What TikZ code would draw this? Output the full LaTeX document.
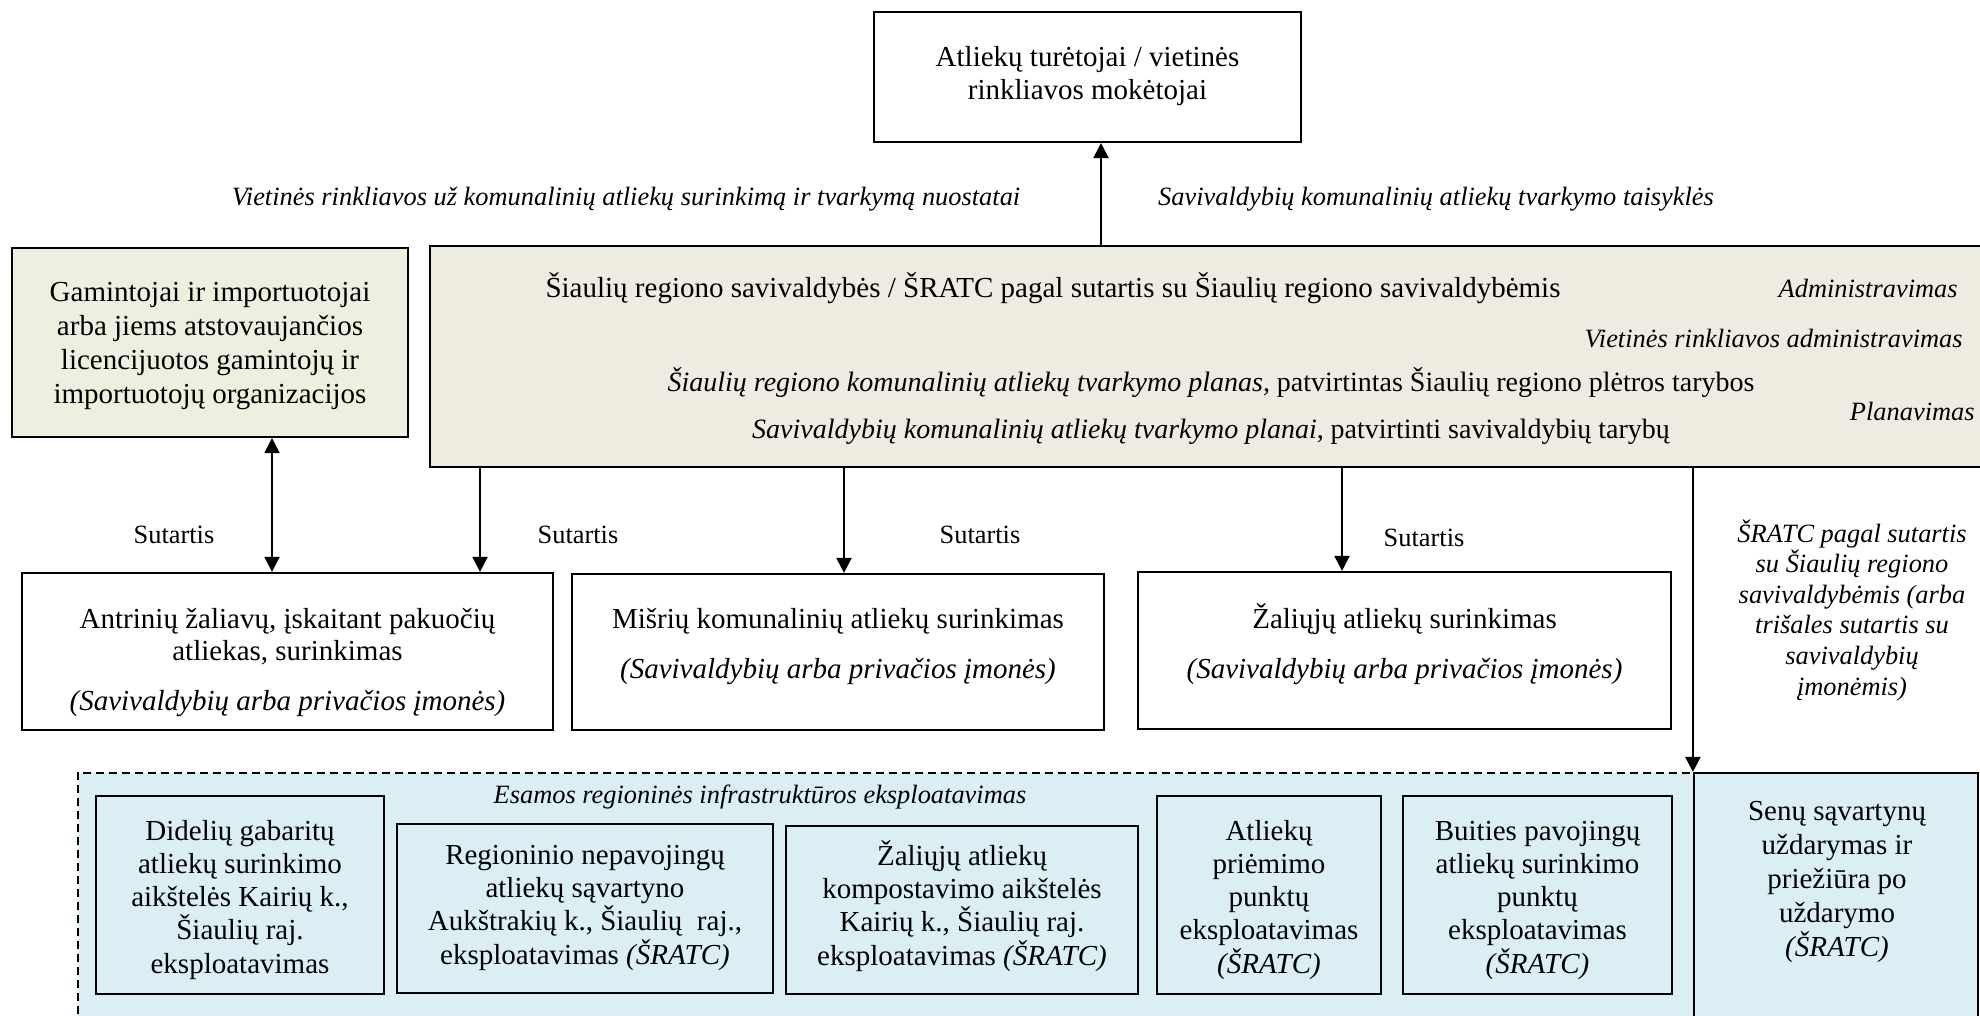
\documentclass[tikz,border=0pt]{standalone}
\usepackage{fontspec}
\setmainfont{Liberation Serif}
\usetikzlibrary{arrows.meta}
\definecolor{beigefill}{HTML}{EEECE1}
\definecolor{greenfill}{HTML}{EBF1DE}
\definecolor{bluefill}{HTML}{DAEEF3}
\tikzset{
  box/.style={draw=black, line width=1.1pt, inner sep=0pt},
  txt/.style={inner sep=0pt, anchor=base, align=center, font=\fontsize{14.5}{16.6}\selectfont},
  txtw/.style={inner sep=0pt, anchor=base, align=center, font=\fontsize{14.5}{16}\selectfont},
  ltxt/.style={inner sep=0pt, anchor=base, font=\fontsize{14}{16}\selectfont},
  itxt/.style={inner sep=0pt, anchor=base, align=center, font=\fontsize{13.2}{15.3}\selectfont\itshape},
  stxt/.style={inner sep=0pt, anchor=base, font=\fontsize{13.2}{15.3}\selectfont},
  tip/.tip={Triangle[width=7.5pt,length=7.5pt]},
  arr/.style={line width=1.1pt, -tip},
  darr/.style={line width=1.1pt, tip-tip},
}
\begin{document}
\begin{tikzpicture}[x=0.5pt,y=-0.5pt]
\fill[white] (0,0) rectangle (1980,1016);
\useasboundingbox (0,0) rectangle (1980,1016);

% top box
\node[box, minimum width=213.5pt, minimum height=65pt] (holders) at (1087.5,77) {};
\node[txt] (holderstxt) at (1087.5,100) {Atliekų turėtojai / vietinės\\rinkliavos mokėtojai};
\node[itxt] (lblL) at (626,206) {Vietinės rinkliavos už komunalinių atliekų surinkimą ir tvarkymą nuostatai};
\node[itxt] (lblR) at (1436,206) {Savivaldybių komunalinių atliekų tvarkymo taisyklės};

% producers
\node[box, fill=greenfill, minimum width=198pt, minimum height=94.5pt] (prod) at (210,342.5) {};
\node[txt, font=\fontsize{14.5}{16.85}\selectfont] (prodtxt) at (210,403)
  {Gamintojai ir importuotojai\\arba jiems atstovaujančios\\licencijuotos gamintojų ir\\importuotojų organizacijos};

% administration box
\node[box, fill=beigefill, minimum width=780pt, minimum height=110.5pt] (adm) at (1210,356.5) {};
\node[txt] (adm1) at (1053,298) {Šiaulių regiono savivaldybės / ŠRATC pagal sutartis su Šiaulių regiono savivaldybėmis};
\node[itxt, anchor=base east] (adm2) at (1958,298) {Administravimas};
\node[itxt, anchor=base east] (adm3) at (1963,347) {Vietinės rinkliavos administravimas};
\node[ltxt] (adm4) at (1211,391) {\textit{Šiaulių regiono komunalinių atliekų tvarkymo planas,} patvirtintas Šiaulių regiono plėtros tarybos};
\node[itxt, anchor=base east] (adm5) at (1975,420) {Planavimas};
\node[ltxt] (adm6) at (1211,438) {\textit{Savivaldybių komunalinių atliekų tvarkymo planai}, patvirtinti savivaldybių tarybų};

% collection boxes
\node[box, minimum width=265.5pt, minimum height=78.5pt] (antr) at (287.5,651.5) {};
\node[txtw] (antrtxt) at (287.5,710)
  {Antrinių žaliavų, įskaitant pakuočių\\atliekas, surinkimas\\[9pt]\textit{(Savivaldybių arba privačios įmonės)}};
\node[box, minimum width=266pt, minimum height=78pt] (misr) at (838,652) {};
\node[txtw] (misrtxt) at (838,678)
  {Mišrių komunalinių atliekų surinkimas\\[9pt]\textit{(Savivaldybių arba privačios įmonės)}};
\node[box, minimum width=266.5pt, minimum height=78.5pt] (zal) at (1404.5,650.5) {};
\node[txtw] (zaltxt) at (1404.5,678)
  {Žaliųjų atliekų surinkimas\\[9pt]\textit{(Savivaldybių arba privačios įmonės)}};

\node[stxt] (s1) at (174,543) {Sutartis};
\node[stxt] (s2) at (578,543) {Sutartis};
\node[stxt] (s3) at (980,543) {Sutartis};
\node[stxt] (s4) at (1424,546) {Sutartis};

\node[itxt] (sratc) at (1852,695)
  {ŠRATC pagal sutartis\\su Šiaulių regiono\\savivaldybėmis (arba\\trišales sutartis su\\savivaldybių\\įmonėmis)};

% infrastructure region
\node[fill=bluefill, inner sep=0pt, minimum width=808pt, minimum height=133.5pt] (infra) at (886,906.5) {};
\draw[line width=1.1pt, dash pattern=on 4pt off 2.5pt] (infra.south west) -- (infra.north west) -- (infra.north east);
\node[itxt] (infralbl) at (760,803) {Esamos regioninės infrastruktūros eksploatavimas};

\node[box, fill=bluefill, minimum width=142pt, minimum height=133.5pt] (seni) at (1836,906.5) {};
\node[txt, font=\fontsize{14.5}{17}\selectfont] (senitxt) at (1837,956)
  {Senų sąvartynų\\uždarymas ir\\priežiūra po\\uždarymo\\\textit{(ŠRATC)}};

\node[box, fill=bluefill, minimum width=144pt, minimum height=99pt] (did) at (240,895) {};
\node[txt] (didtxt) at (240,973)
  {Didelių gabaritų\\atliekų surinkimo\\aikštelės Kairių k.,\\Šiaulių raj.\\eksploatavimas};
\node[box, fill=bluefill, minimum width=188pt, minimum height=84.5pt] (reg) at (585,908.5) {};
\node[txt] (regtxt) at (585,964)
  {Regioninio nepavojingų\\atliekų sąvartyno\\Aukštrakių k., Šiaulių\ \ raj.,\\eksploatavimas \textit{(ŠRATC)}};
\node[box, fill=bluefill, minimum width=176pt, minimum height=84pt] (komp) at (962,910) {};
\node[txt] (komptxt) at (962,965)
  {Žaliųjų atliekų\\kompostavimo aikštelės\\Kairių k., Šiaulių raj.\\eksploatavimas \textit{(ŠRATC)}};
\node[box, fill=bluefill, minimum width=112pt, minimum height=99pt] (prie) at (1269,895) {};
\node[txt] (prietxt) at (1269,973)
  {Atliekų\\priėmimo\\punktų\\eksploatavimas\\\textit{(ŠRATC)}};
\node[box, fill=bluefill, minimum width=134.5pt, minimum height=99pt] (buit) at (1537.5,895) {};
\node[txt] (buittxt) at (1537.5,973)
  {Buities pavojingų\\atliekų surinkimo\\punktų\\eksploatavimas\\\textit{(ŠRATC)}};

% connectors
\coordinate (xa) at (1101,0);
\coordinate (xb) at (272,0);
\coordinate (xc) at (480,0);
\coordinate (xd) at (844,0);
\coordinate (xe) at (1342,0);
\draw[arr] (adm.north -| xa) -- (holders.south -| xa);
\draw[darr] (prod.south -| xb) -- (antr.north -| xb);
\draw[arr] (adm.south -| xc) -- (antr.north -| xc);
\draw[arr] (adm.south -| xd) -- (misr.north -| xd);
\draw[arr] (adm.south -| xe) -- (zal.north -| xe);
\draw[arr] (adm.south -| seni.north west) -- (seni.north west);
\end{tikzpicture}
\end{document}
